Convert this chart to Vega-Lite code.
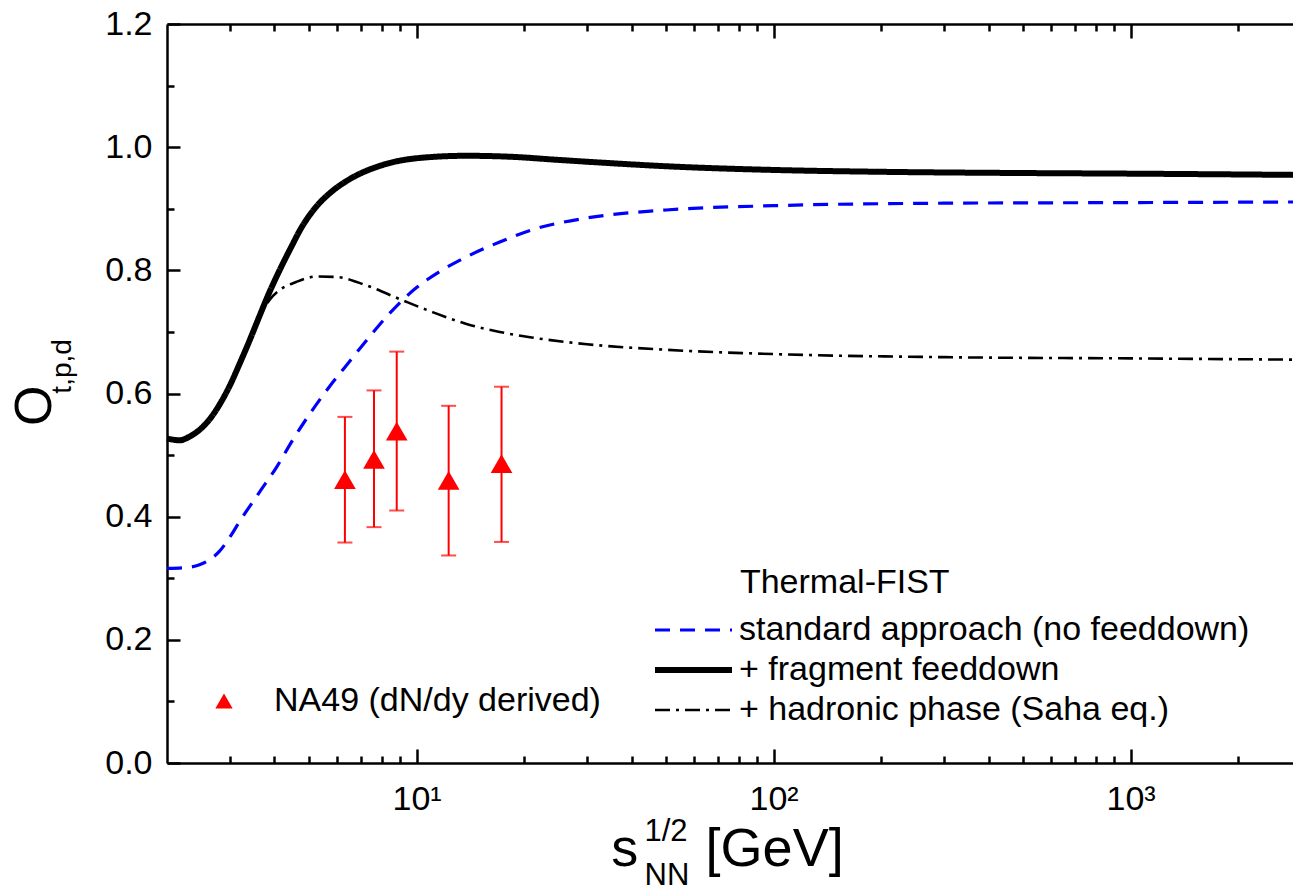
{
  "$schema": "https://vega.github.io/schema/vega-lite/v6.json",
  "width": 1126,
  "height": 739,
  "autosize": {"type": "none"},
  "padding": {"left": 167, "top": 24, "right": 0, "bottom": 128},
  "background": "white",
  "config": {
    "view": {"stroke": null},
    "font": "Liberation Sans",
    "axis": {
      "domainColor": "black", "domainWidth": 2.5, "tickColor": "black", "tickWidth": 2.5,
      "labelColor": "black", "labelFont": "Liberation Sans", "labelFontSize": 34,
      "grid": false, "title": null
    },
    "legend": {
      "labelExpr": "indexof(datum.label, 'standard') == 0 ? datum.label : '\u00a0' + datum.label"
    }
  },
  "datasets": {
    "curves": [
      {"model": "standard approach (no feeddown)", "x": 2.0, "y": 0.316},
      {"model": "standard approach (no feeddown)", "x": 2.313, "y": 0.318},
      {"model": "standard approach (no feeddown)", "x": 2.467, "y": 0.322},
      {"model": "standard approach (no feeddown)", "x": 2.632, "y": 0.33},
      {"model": "standard approach (no feeddown)", "x": 2.807, "y": 0.344},
      {"model": "standard approach (no feeddown)", "x": 2.994, "y": 0.366},
      {"model": "standard approach (no feeddown)", "x": 3.193, "y": 0.392},
      {"model": "standard approach (no feeddown)", "x": 3.633, "y": 0.44},
      {"model": "standard approach (no feeddown)", "x": 4.06, "y": 0.481},
      {"model": "standard approach (no feeddown)", "x": 4.494, "y": 0.524},
      {"model": "standard approach (no feeddown)", "x": 5.01, "y": 0.566},
      {"model": "standard approach (no feeddown)", "x": 5.7, "y": 0.611},
      {"model": "standard approach (no feeddown)", "x": 6.49, "y": 0.652},
      {"model": "standard approach (no feeddown)", "x": 7.38, "y": 0.692},
      {"model": "standard approach (no feeddown)", "x": 8.4, "y": 0.73},
      {"model": "standard approach (no feeddown)", "x": 10, "y": 0.772},
      {"model": "standard approach (no feeddown)", "x": 11.6, "y": 0.798},
      {"model": "standard approach (no feeddown)", "x": 13.8, "y": 0.822},
      {"model": "standard approach (no feeddown)", "x": 17.1, "y": 0.846},
      {"model": "standard approach (no feeddown)", "x": 21.1, "y": 0.866},
      {"model": "standard approach (no feeddown)", "x": 30, "y": 0.885},
      {"model": "standard approach (no feeddown)", "x": 50, "y": 0.898},
      {"model": "standard approach (no feeddown)", "x": 100, "y": 0.905},
      {"model": "standard approach (no feeddown)", "x": 300, "y": 0.909},
      {"model": "standard approach (no feeddown)", "x": 1000, "y": 0.91},
      {"model": "standard approach (no feeddown)", "x": 2850, "y": 0.911},
      {"model": "+ hadronic phase (Saha eq.)", "x": 2.0, "y": 0.527},
      {"model": "+ hadronic phase (Saha eq.)", "x": 2.168, "y": 0.524},
      {"model": "+ hadronic phase (Saha eq.)", "x": 2.313, "y": 0.53},
      {"model": "+ hadronic phase (Saha eq.)", "x": 2.467, "y": 0.541},
      {"model": "+ hadronic phase (Saha eq.)", "x": 2.632, "y": 0.558},
      {"model": "+ hadronic phase (Saha eq.)", "x": 2.807, "y": 0.582},
      {"model": "+ hadronic phase (Saha eq.)", "x": 2.994, "y": 0.612},
      {"model": "+ hadronic phase (Saha eq.)", "x": 3.193, "y": 0.648},
      {"model": "+ hadronic phase (Saha eq.)", "x": 3.406, "y": 0.686},
      {"model": "+ hadronic phase (Saha eq.)", "x": 3.633, "y": 0.724},
      {"model": "+ hadronic phase (Saha eq.)", "x": 3.875, "y": 0.752},
      {"model": "+ hadronic phase (Saha eq.)", "x": 4.133, "y": 0.768},
      {"model": "+ hadronic phase (Saha eq.)", "x": 4.6, "y": 0.781},
      {"model": "+ hadronic phase (Saha eq.)", "x": 5.25, "y": 0.79},
      {"model": "+ hadronic phase (Saha eq.)", "x": 6.0, "y": 0.789},
      {"model": "+ hadronic phase (Saha eq.)", "x": 7.2, "y": 0.776},
      {"model": "+ hadronic phase (Saha eq.)", "x": 9.0, "y": 0.753},
      {"model": "+ hadronic phase (Saha eq.)", "x": 11.1, "y": 0.732},
      {"model": "+ hadronic phase (Saha eq.)", "x": 13.8, "y": 0.713},
      {"model": "+ hadronic phase (Saha eq.)", "x": 17.1, "y": 0.7},
      {"model": "+ hadronic phase (Saha eq.)", "x": 21, "y": 0.691},
      {"model": "+ hadronic phase (Saha eq.)", "x": 30, "y": 0.68},
      {"model": "+ hadronic phase (Saha eq.)", "x": 50, "y": 0.671},
      {"model": "+ hadronic phase (Saha eq.)", "x": 100, "y": 0.664},
      {"model": "+ hadronic phase (Saha eq.)", "x": 300, "y": 0.659},
      {"model": "+ hadronic phase (Saha eq.)", "x": 1000, "y": 0.657},
      {"model": "+ hadronic phase (Saha eq.)", "x": 2850, "y": 0.655},
      {"model": "+ fragment feeddown", "x": 2.0, "y": 0.527},
      {"model": "+ fragment feeddown", "x": 2.168, "y": 0.524},
      {"model": "+ fragment feeddown", "x": 2.313, "y": 0.53},
      {"model": "+ fragment feeddown", "x": 2.467, "y": 0.541},
      {"model": "+ fragment feeddown", "x": 2.632, "y": 0.558},
      {"model": "+ fragment feeddown", "x": 2.807, "y": 0.582},
      {"model": "+ fragment feeddown", "x": 2.994, "y": 0.612},
      {"model": "+ fragment feeddown", "x": 3.193, "y": 0.648},
      {"model": "+ fragment feeddown", "x": 3.406, "y": 0.686},
      {"model": "+ fragment feeddown", "x": 3.633, "y": 0.726},
      {"model": "+ fragment feeddown", "x": 3.875, "y": 0.765},
      {"model": "+ fragment feeddown", "x": 4.133, "y": 0.8},
      {"model": "+ fragment feeddown", "x": 4.494, "y": 0.842},
      {"model": "+ fragment feeddown", "x": 4.702, "y": 0.864},
      {"model": "+ fragment feeddown", "x": 5.248, "y": 0.904},
      {"model": "+ fragment feeddown", "x": 5.817, "y": 0.929},
      {"model": "+ fragment feeddown", "x": 6.493, "y": 0.948},
      {"model": "+ fragment feeddown", "x": 8.03, "y": 0.971},
      {"model": "+ fragment feeddown", "x": 10, "y": 0.982},
      {"model": "+ fragment feeddown", "x": 13.8, "y": 0.986},
      {"model": "+ fragment feeddown", "x": 19, "y": 0.984},
      {"model": "+ fragment feeddown", "x": 24, "y": 0.98},
      {"model": "+ fragment feeddown", "x": 35, "y": 0.974},
      {"model": "+ fragment feeddown", "x": 50, "y": 0.969},
      {"model": "+ fragment feeddown", "x": 100, "y": 0.963},
      {"model": "+ fragment feeddown", "x": 200, "y": 0.96},
      {"model": "+ fragment feeddown", "x": 500, "y": 0.958},
      {"model": "+ fragment feeddown", "x": 1000, "y": 0.957},
      {"model": "+ fragment feeddown", "x": 2850, "y": 0.955}
    ],
    "na49": [
      {"exp": "NA49 (dN/dy derived)", "x": 6.3, "y": 0.46, "lo": 0.358, "hi": 0.562},
      {"exp": "NA49 (dN/dy derived)", "x": 7.6, "y": 0.493, "lo": 0.383, "hi": 0.605},
      {"exp": "NA49 (dN/dy derived)", "x": 8.8, "y": 0.539, "lo": 0.41, "hi": 0.668},
      {"exp": "NA49 (dN/dy derived)", "x": 12.3, "y": 0.459, "lo": 0.337, "hi": 0.58},
      {"exp": "NA49 (dN/dy derived)", "x": 17.3, "y": 0.486, "lo": 0.359, "hi": 0.611}
    ]
  },
  "layer": [
    {
      "data": {"name": "curves"},
      "mark": {"type": "line", "interpolate": "monotone", "strokeCap": "butt"},
      "encoding": {
        "x": {"field": "x", "type": "quantitative", "scale": {"type": "log", "domain": [2, 2850], "nice": false},
          "axis": {"orient": "bottom", "values": [10, 100, 1000], "tickSize": -14, "labelPadding": 33, "labelFontSize": 34, "labelFont": "Liberation Sans",
            "labelExpr": "datum.value == 10 ? '10¹' : datum.value == 100 ? '10²' : '10³'"}},
        "y": {"field": "y", "type": "quantitative", "scale": {"domain": [0, 1.2], "nice": false, "zero": false},
          "axis": {"orient": "left", "values": [0, 0.2, 0.4, 0.6, 0.8, 1.0, 1.2], "format": ".1f", "tickSize": -13, "labelPadding": 28, "labelFontSize": 34, "labelFont": "Liberation Sans"}},
        "color": {"field": "model", "type": "nominal",
          "scale": {"domain": ["standard approach (no feeddown)", "+ fragment feeddown", "+ hadronic phase (Saha eq.)"], "range": ["#0000ff", "#000000", "#000000"]},
          "legend": {"title": null, "orient": "none", "legendX": 485, "legendY": 589,
            "direction": "vertical", "symbolType": "stroke", "symbolSize": 5929, "labelFontSize": 34,
            "labelColor": "black", "labelFont": "Liberation Sans", "clipHeight": 34,
            "labelOffset": 4, "rowPadding": 6, "padding": 0, "labelLimit": 1000}},
        "strokeDash": {"field": "model", "type": "nominal",
          "scale": {"domain": ["standard approach (no feeddown)", "+ fragment feeddown", "+ hadronic phase (Saha eq.)"], "range": [[15, 10], [1, 0], [15, 6, 3, 6]]}},
        "strokeWidth": {"field": "model", "type": "nominal",
          "scale": {"type": "ordinal", "domain": ["standard approach (no feeddown)", "+ fragment feeddown", "+ hadronic phase (Saha eq.)"], "range": [3.2, 6, 2.6]}}
      }
    },
    {
      "data": {"name": "na49"},
      "mark": {"type": "rule", "color": "#ff0000", "strokeWidth": 2},
      "encoding": {
        "x": {"field": "x", "type": "quantitative", "scale": {"type": "log", "domain": [2, 2850], "nice": false},
          "axis": {"orient": "bottom", "values": [3, 4, 5, 6, 7, 8, 9, 20, 30, 40, 50, 60, 70, 80, 90, 200, 300, 400, 500, 600, 700, 800, 900, 2000], "tickSize": -7, "labels": false, "domain": false}},
        "y": {"field": "lo", "type": "quantitative", "scale": {"domain": [0, 1.2], "nice": false, "zero": false},
          "axis": {"orient": "left", "values": [0.1, 0.3, 0.5, 0.7, 0.9, 1.1], "tickSize": -7, "labels": false, "domain": false}},
        "y2": {"field": "hi"}
      }
    },
    {
      "data": {"name": "na49"},
      "mark": {"type": "tick", "orient": "horizontal", "size": 15, "thickness": 2, "color": "#ff0000"},
      "encoding": {
        "x": {"field": "x", "type": "quantitative", "scale": {"type": "log", "domain": [2, 2850], "nice": false},
          "axis": {"orient": "top", "values": [10, 100, 1000], "tickSize": -14, "labels": false}},
        "y": {"field": "lo", "type": "quantitative", "scale": {"domain": [0, 1.2], "nice": false, "zero": false}, "axis": null}
      }
    },
    {
      "data": {"name": "na49"},
      "mark": {"type": "tick", "orient": "horizontal", "size": 15, "thickness": 2, "color": "#ff0000"},
      "encoding": {
        "x": {"field": "x", "type": "quantitative", "scale": {"type": "log", "domain": [2, 2850], "nice": false},
          "axis": {"orient": "top", "values": [3, 4, 5, 6, 7, 8, 9, 20, 30, 40, 50, 60, 70, 80, 90, 200, 300, 400, 500, 600, 700, 800, 900, 2000], "tickSize": -7, "labels": false, "domain": false}},
        "y": {"field": "hi", "type": "quantitative", "scale": {"domain": [0, 1.2], "nice": false, "zero": false}, "axis": null}
      }
    },
    {
      "data": {"name": "na49"},
      "mark": {"type": "point", "filled": true, "color": "#ff0000", "size": 470, "opacity": 1},
      "encoding": {
        "x": {"field": "x", "type": "quantitative", "scale": {"type": "log", "domain": [2, 2850], "nice": false}, "axis": null},
        "y": {"field": "y", "type": "quantitative", "scale": {"domain": [0, 1.2], "nice": false, "zero": false}, "axis": null},
        "shape": {"field": "exp", "type": "nominal", "scale": {"range": ["triangle-up"]},
          "legend": {"title": null, "orient": "none", "legendX": 40, "legendY": 660, "labelFontSize": 34, "labelColor": "black", "labelFont": "Liberation Sans",
            "symbolFillColor": "#ff0000", "symbolStrokeColor": "#ff0000", "symbolSize": 300, "labelOffset": 33, "padding": 0, "labelLimit": 1000}}
      }
    },
    {
      "data": {"values": [{}]},
      "mark": {"type": "text", "text": "Thermal-FIST", "font": "Liberation Sans", "fontSize": 34, "align": "left", "baseline": "middle", "color": "black"},
      "encoding": {
        "x": {"datum": 80.5, "type": "quantitative", "scale": {"type": "log", "domain": [2, 2850], "nice": false}, "axis": null},
        "y": {"datum": 0.2927, "type": "quantitative", "scale": {"domain": [0, 1.2], "nice": false, "zero": false}, "axis": null}
      }
    },
    {
      "data": {"values": [{}]},
      "mark": {"type": "text", "text": "O", "font": "Liberation Sans", "fontSize": 52, "angle": 270, "align": "center", "baseline": "middle", "color": "black"},
      "encoding": {
        "x": {"datum": 0.851, "type": "quantitative", "scale": {"type": "log", "domain": [2, 2850], "nice": false}, "axis": null},
        "y": {"datum": 0.58, "type": "quantitative", "scale": {"domain": [0, 1.2], "nice": false, "zero": false}, "axis": null}
      }
    },
    {
      "data": {"values": [{}]},
      "mark": {"type": "text", "text": "t,p,d", "font": "Liberation Sans", "fontSize": 28, "angle": 270, "align": "center", "baseline": "middle", "color": "black"},
      "encoding": {
        "x": {"datum": 1.02, "type": "quantitative", "scale": {"type": "log", "domain": [2, 2850], "nice": false}, "axis": null},
        "y": {"datum": 0.644, "type": "quantitative", "scale": {"domain": [0, 1.2], "nice": false, "zero": false}, "axis": null}
      }
    },
    {
      "data": {"values": [{}]},
      "mark": {"type": "text", "text": "s", "font": "Liberation Sans", "fontSize": 54, "align": "center", "baseline": "alphabetic", "color": "black"},
      "encoding": {
        "x": {"datum": 38.3, "type": "quantitative", "scale": {"type": "log", "domain": [2, 2850], "nice": false}, "axis": null},
        "y": {"datum": -0.167, "type": "quantitative", "scale": {"domain": [0, 1.2], "nice": false, "zero": false}, "axis": null}
      }
    },
    {
      "data": {"values": [{}]},
      "mark": {"type": "text", "text": "1/2", "font": "Liberation Sans", "fontSize": 31, "align": "left", "baseline": "alphabetic", "color": "black"},
      "encoding": {
        "x": {"datum": 43.5, "type": "quantitative", "scale": {"type": "log", "domain": [2, 2850], "nice": false}, "axis": null},
        "y": {"datum": -0.127, "type": "quantitative", "scale": {"domain": [0, 1.2], "nice": false, "zero": false}, "axis": null}
      }
    },
    {
      "data": {"values": [{}]},
      "mark": {"type": "text", "text": "NN", "font": "Liberation Sans", "fontSize": 31, "align": "left", "baseline": "alphabetic", "color": "black"},
      "encoding": {
        "x": {"datum": 43.5, "type": "quantitative", "scale": {"type": "log", "domain": [2, 2850], "nice": false}, "axis": null},
        "y": {"datum": -0.198, "type": "quantitative", "scale": {"domain": [0, 1.2], "nice": false, "zero": false}, "axis": null}
      }
    },
    {
      "data": {"values": [{}]},
      "mark": {"type": "text", "text": "[GeV]", "font": "Liberation Sans", "fontSize": 54, "align": "left", "baseline": "alphabetic", "color": "black"},
      "encoding": {
        "x": {"datum": 64.5, "type": "quantitative", "scale": {"type": "log", "domain": [2, 2850], "nice": false}, "axis": null},
        "y": {"datum": -0.167, "type": "quantitative", "scale": {"domain": [0, 1.2], "nice": false, "zero": false}, "axis": null}
      }
    }
  ],
  "resolve": {"axis": {"x": "independent", "y": "independent"}}
}
